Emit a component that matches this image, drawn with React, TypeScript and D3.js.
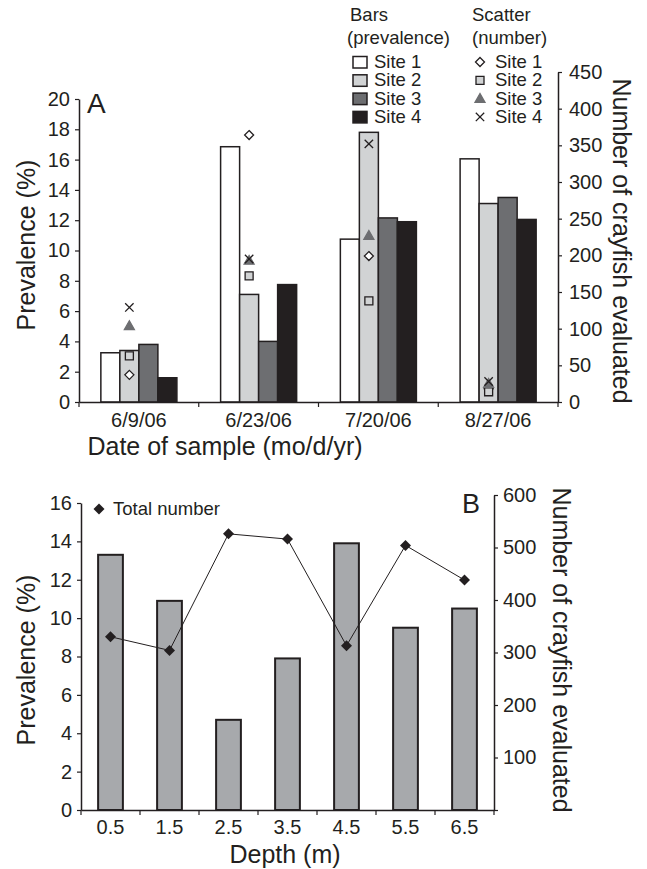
import React, { useEffect, useRef } from 'react';
import * as d3 from 'd3';

// Panel A: prevalence by sampling date, one series per site
const dates = ['6/9/06', '6/23/06', '7/20/06', '8/27/06'];
const sites = ['Site 1', 'Site 2', 'Site 3', 'Site 4'];
const prevSite1 = [3.25, 16.85, 10.75, 16.05];
const prevSite2 = [3.4, 7.1, 17.8, 13.1];
const prevSite3 = [3.8, 4.0, 12.15, 13.5];
const prevSite4 = [1.6, 7.75, 11.9, 12.05];
// number of crayfish evaluated (scatter, right axis)
const numSite1 = [37, 364, 199, 18];
const numSite2 = [63, 172, 138, 14];
const numSite3 = [104, 193, 227, 25];
const numSite4 = [129, 195, 352, 28];
const ticksLeftA = [0, 2, 4, 6, 8, 10, 12, 14, 16, 18, 20];
const ticksRightA = [0, 50, 100, 150, 200, 250, 300, 350, 400, 450];

// Panel B: prevalence by depth
const depths = ['0.5', '1.5', '2.5', '3.5', '4.5', '5.5', '6.5'];
const prevDepth = [13.3, 10.9, 4.7, 7.9, 13.9, 9.5, 10.5];
const totalNumber = [330, 304, 526, 516, 313, 504, 438];
const ticksLeftB = [0, 2, 4, 6, 8, 10, 12, 14, 16];
const ticksRightB = [0, 100, 200, 300, 400, 500, 600];

const FONT = '"Liberation Sans", Arial, Helvetica, sans-serif';
const INK = '#231f20';
const barFills = ['#ffffff', '#d1d3d4', '#6d6e71', '#231f20'];

const App = () => {
  const ref = useRef<SVGSVGElement>(null);

  useEffect(() => {
    const svg = d3.select(ref.current);
    svg.selectAll('*').remove();

    const styleAxis = (g: any, size = 20) => {
      g.selectAll('.domain').attr('stroke', INK).attr('stroke-width', 1.5);
      g.selectAll('.tick line').attr('stroke', INK).attr('stroke-width', 1.2);
      g.selectAll('.tick text')
        .attr('fill', INK)
        .style('font-family', FONT)
        .style('font-size', `${size}px`);
    };

    const txt = (x: number, y: number, s: string, size: number, anchor = 'start', rot = 0) =>
      svg
        .append('text')
        .attr('transform', `translate(${x},${y}) rotate(${rot})`)
        .attr('text-anchor', anchor)
        .attr('fill', INK)
        .style('font-family', FONT)
        .style('font-size', `${size}px`)
        .text(s);

    const diamondPath = (s: number) => `M0,${-s}L${s},0L0,${s}L${-s},0Z`;
    const squarePath = (s: number) => `M${-s},${-s}H${s}V${s}H${-s}Z`;
    const triPath = (s: number) => `M0,${-s}L${s},${s * 0.75}L${-s},${s * 0.75}Z`;
    const xPath = (s: number) => `M${-s},${-s}L${s},${s}M${-s},${s}L${s},${-s}`;

    const markers = [
      { path: diamondPath(4.5), fill: '#fff', stroke: INK },
      { path: squarePath(4), fill: '#d1d3d4', stroke: INK },
      { path: triPath(5), fill: '#6d6e71', stroke: '#6d6e71' },
      { path: xPath(4.2), fill: 'none', stroke: INK },
    ];

    // ---------- Panel A ----------
    const x0 = d3.scaleBand().domain(dates).range([79, 558]);
    const x1 = d3
      .scaleBand()
      .domain(sites)
      .range([0, x0.bandwidth()])
      .paddingInner(0)
      .paddingOuter(1.15);
    const yL = d3.scaleLinear().domain([0, 20]).range([402, 99]);
    const yR = d3.scaleLinear().domain([0, 450]).range([402, 72]);

    const prev = [prevSite1, prevSite2, prevSite3, prevSite4];
    const nums = [numSite1, numSite2, numSite3, numSite4];

    const gA = svg.append('g');
    sites.forEach((site, j) => {
      gA.selectAll(`.bar${j}`)
        .data(dates.map((d, i) => ({ d, v: prev[j][i] })))
        .enter()
        .append('rect')
        .attr('x', (p) => (x0(p.d) as number) + (x1(site) as number))
        .attr('width', x1.bandwidth())
        .attr('y', (p) => yL(p.v))
        .attr('height', (p) => yL(0) - yL(p.v))
        .attr('fill', barFills[j])
        .attr('stroke', INK)
        .attr('stroke-width', 1.5);
    });

    const scatterX = (d: string) => (x0(d) as number) + (x1('Site 2') as number) + x1.bandwidth() / 2;
    sites.forEach((site, j) => {
      gA.selectAll(`.pt${j}`)
        .data(dates.map((d, i) => ({ d, v: nums[j][i] })))
        .enter()
        .append('path')
        .attr('d', markers[j].path)
        .attr('transform', (p) => `translate(${scatterX(p.d)},${yR(p.v)})`)
        .attr('fill', markers[j].fill)
        .attr('stroke', markers[j].stroke)
        .attr('stroke-width', 1.3);
    });

    const axLA = gA
      .append('g')
      .attr('transform', 'translate(79,0)')
      .call(d3.axisLeft(yL).tickValues(ticksLeftA).tickSize(4).tickSizeOuter(0).tickPadding(5));
    styleAxis(axLA);
    const axRA = gA
      .append('g')
      .attr('transform', 'translate(558,0)')
      .call(d3.axisRight(yR).tickValues(ticksRightA).tickSize(4).tickSizeOuter(0).tickPadding(7));
    styleAxis(axRA);
    const axBA = gA
      .append('g')
      .attr('transform', 'translate(0,402)')
      .call(d3.axisBottom(x0).tickSize(0).tickPadding(11));
    styleAxis(axBA);
    gA.selectAll('.sepA')
      .data([...dates.map((d) => x0(d) as number), x0.range()[1]])
      .enter()
      .append('line')
      .attr('x1', (v) => v)
      .attr('x2', (v) => v)
      .attr('y1', 402)
      .attr('y2', 407)
      .attr('stroke', INK)
      .attr('stroke-width', 1.2);

    txt(87, 113, 'A', 28);
    txt(35, 245, 'Prevalence (%)', 25, 'middle', -90);
    txt(613, 241, 'Number of crayfish evaluated', 25, 'middle', 90);
    txt(225, 455, 'Date of sample (mo/d/yr)', 25, 'middle');

    // legend A
    txt(350, 21, 'Bars', 18.5);
    txt(347, 44, '(prevalence)', 18.5);
    txt(472, 21, 'Scatter', 18.5);
    txt(472, 44, '(number)', 18.5);
    sites.forEach((site, j) => {
      const yy = 68 + j * 18.3;
      gA.append('rect')
        .attr('x', 353)
        .attr('y', yy - 11.5)
        .attr('width', 14)
        .attr('height', 11.5)
        .attr('fill', barFills[j])
        .attr('stroke', INK)
        .attr('stroke-width', 1.5);
      txt(374, yy, site, 18.5);
      gA.append('path')
        .attr('d', markers[j].path)
        .attr('transform', `translate(480,${yy - 6})`)
        .attr('fill', markers[j].fill)
        .attr('stroke', markers[j].stroke)
        .attr('stroke-width', 1.3);
      txt(495, yy, site, 18.5);
    });

    // ---------- Panel B ----------
    const xB = d3.scaleBand().domain(depths).range([81, 494]).paddingInner(0.58).paddingOuter(0.29);
    const yBL = d3.scaleLinear().domain([0, 16]).range([810, 503]);
    const yBR = d3.scaleLinear().domain([0, 600]).range([810, 495]);

    const gB = svg.append('g');
    gB.selectAll('.barB')
      .data(depths.map((d, i) => ({ d, v: prevDepth[i] })))
      .enter()
      .append('rect')
      .attr('x', (p) => xB(p.d) as number)
      .attr('width', xB.bandwidth())
      .attr('y', (p) => yBL(p.v))
      .attr('height', (p) => yBL(0) - yBL(p.v))
      .attr('fill', '#a7a9ac')
      .attr('stroke', INK)
      .attr('stroke-width', 2);

    const pts = depths.map((d, i) => ({ x: (xB(d) as number) + xB.bandwidth() / 2, y: yBR(totalNumber[i]) }));
    gB.append('path')
      .attr('d', d3.line<{ x: number; y: number }>().x((p) => p.x).y((p) => p.y)(pts) as string)
      .attr('fill', 'none')
      .attr('stroke', INK)
      .attr('stroke-width', 1);
    gB.selectAll('.ptB')
      .data(pts)
      .enter()
      .append('path')
      .attr('d', diamondPath(5.5))
      .attr('transform', (p) => `translate(${p.x},${p.y})`)
      .attr('fill', INK);

    const axLB = gB
      .append('g')
      .attr('transform', 'translate(81,0)')
      .call(d3.axisLeft(yBL).tickValues(ticksLeftB).tickSize(4).tickSizeOuter(0).tickPadding(5));
    styleAxis(axLB);
    const axRB = gB
      .append('g')
      .attr('transform', 'translate(494,0)')
      .call(
        d3
          .axisRight(yBR)
          .tickValues(ticksRightB)
          .tickSize(4)
          .tickSizeOuter(0)
          .tickPadding(5)
          .tickFormat((v) => (v === 0 ? '' : String(v)))
      );
    styleAxis(axRB);
    const axBB = gB
      .append('g')
      .attr('transform', 'translate(0,810)')
      .call(d3.axisBottom(xB).tickSize(0).tickPadding(10));
    styleAxis(axBB);
    const step = xB.step();
    gB.selectAll('.sepB')
      .data(d3.range(depths.length + 1).map((i) => 81 + i * (413 / depths.length)))
      .enter()
      .append('line')
      .attr('x1', (v) => v)
      .attr('x2', (v) => v)
      .attr('y1', 810)
      .attr('y2', 815)
      .attr('stroke', INK)
      .attr('stroke-width', 1.2);
    void step;

    txt(462, 513, 'B', 27);
    txt(35, 660, 'Prevalence (%)', 25, 'middle', -90);
    txt(553, 650, 'Number of crayfish evaluated', 25, 'middle', 90);
    txt(285, 863, 'Depth (m)', 25, 'middle');

    gB.append('path')
      .attr('d', diamondPath(5.5))
      .attr('transform', 'translate(99,509)')
      .attr('fill', INK);
    txt(113, 515, 'Total number', 18.5);
  }, []);

  return (
    <svg
      ref={ref}
      width={647}
      height={869}
      style={{ position: 'absolute', left: 0, top: 0, background: '#fff' }}
    />
  );
};

export default App;
